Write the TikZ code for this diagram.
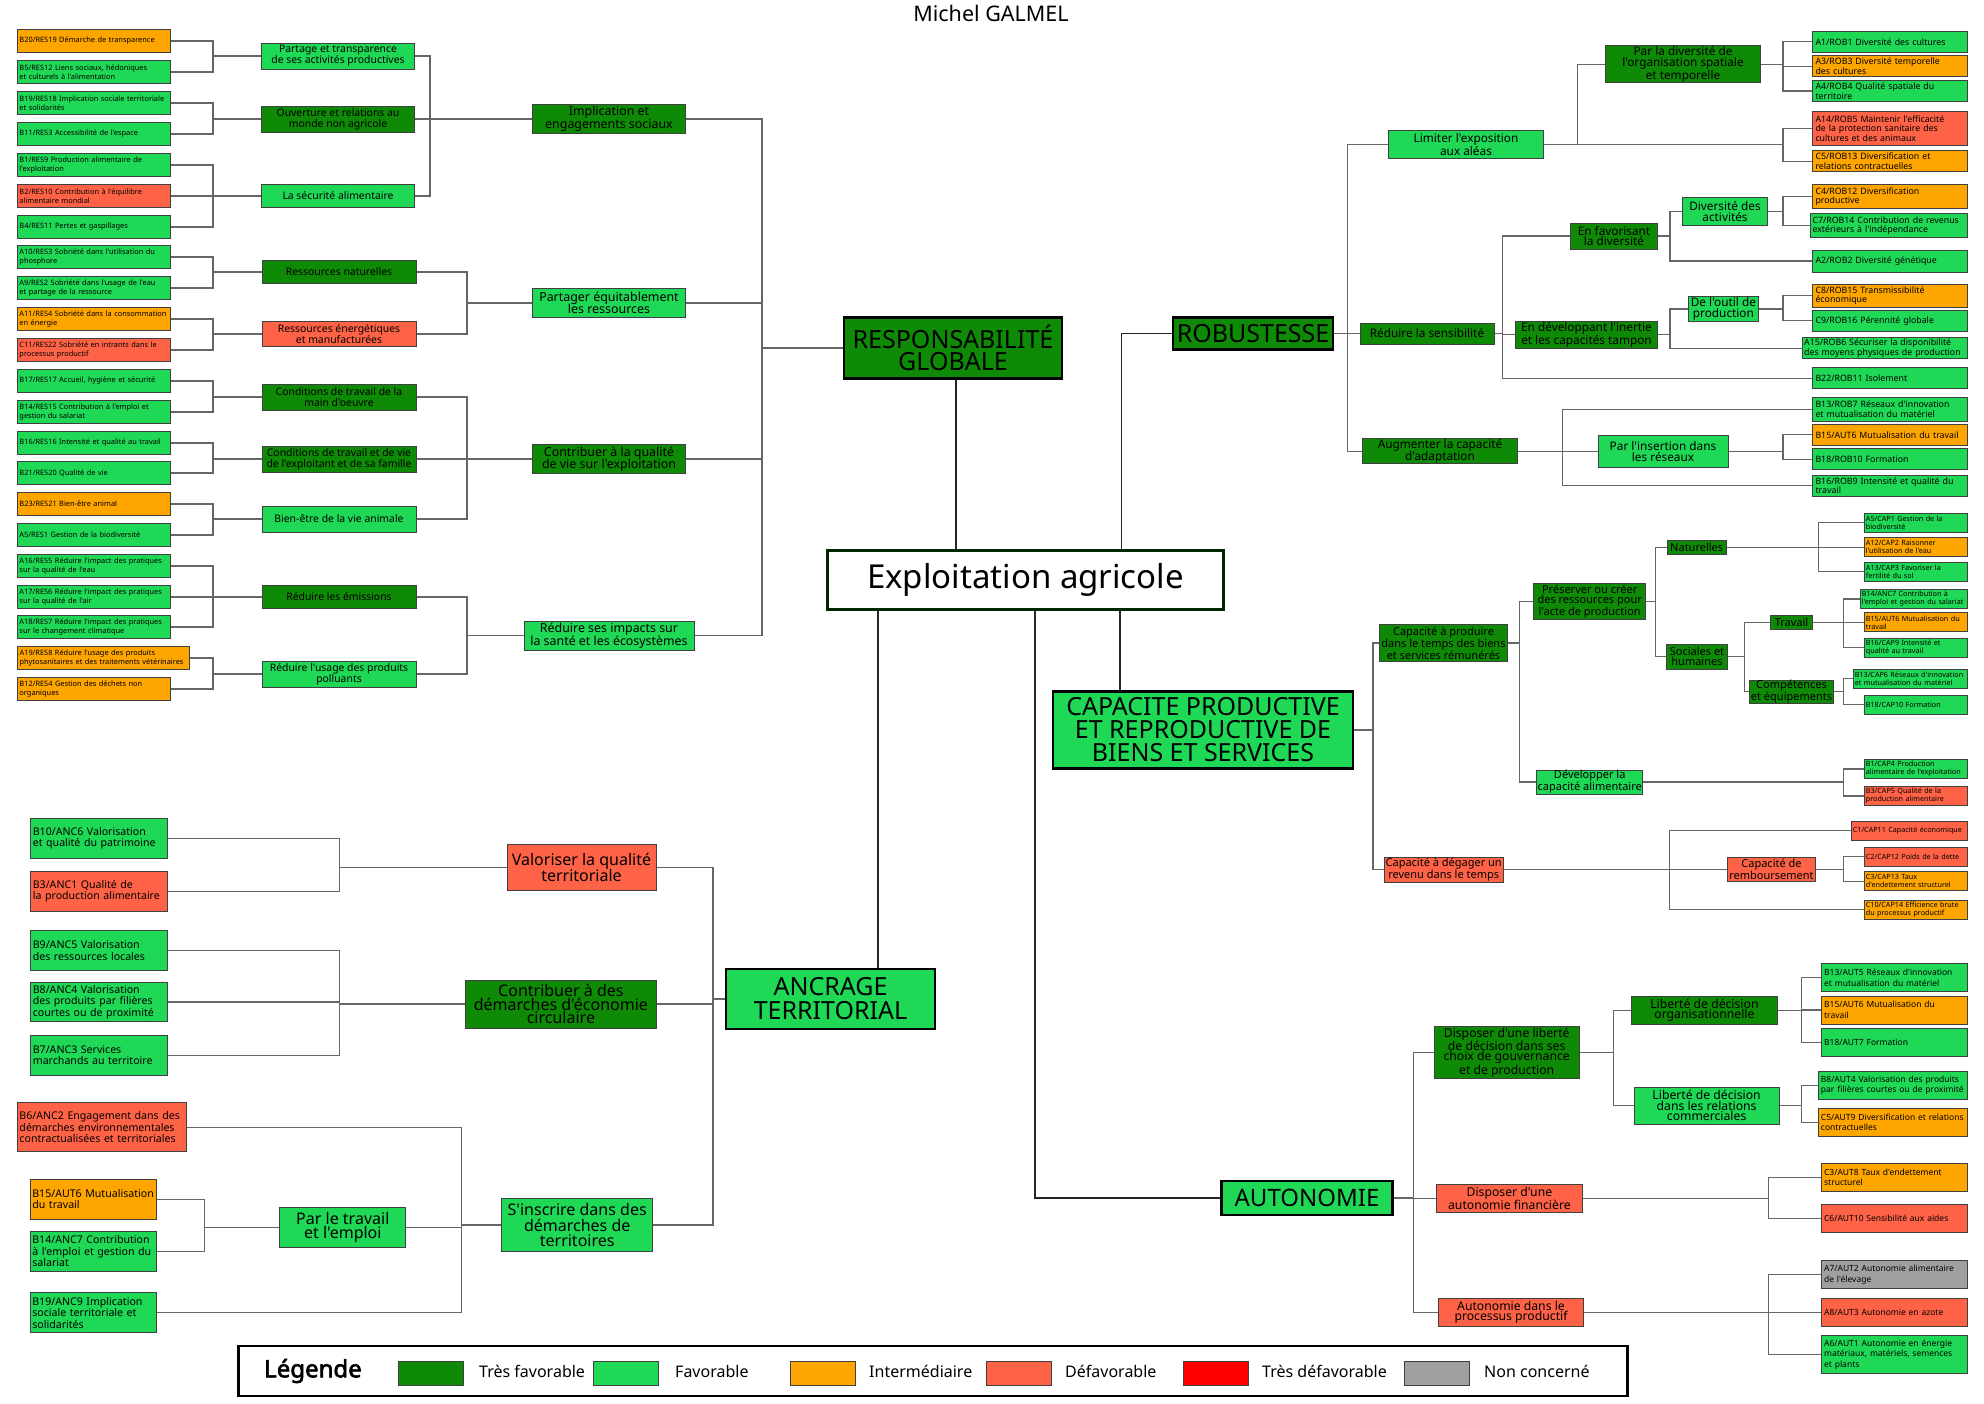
\documentclass[tikz,border=0pt]{standalone}
\usepackage{fontspec}
\setmainfont{Noto Sans}[Ligatures=TeXOff]
\newfontfamily\legfont{Noto Sans}[FakeBold=2.5]

\definecolor{tresfav}{HTML}{0E8A07}
\definecolor{fav}{HTML}{1FD956}
\definecolor{interm}{HTML}{FFA500}
\definecolor{defav}{HTML}{FF6347}
\definecolor{tresdefav}{HTML}{FF0000}
\definecolor{noncon}{HTML}{A0A0A0}

\begin{document}
\begin{tikzpicture}[
    x=1pt, y=-1pt,
    box/.style={draw=black!75, line width=1pt, align=center, inner sep=0pt},
    sz/.style 2 args={minimum width=#1pt, minimum height=#2pt},
    lsz/.code n args={3}{\pgfmathsetmacro\leafw{#1-2*#3}%
      \edef\leafset{\noexpand\tikzset{minimum width=#1pt, minimum height=#2pt,
        inner xsep=#3pt, text width=\leafw pt}}\leafset},
    leaf/.style={box, align=left},
    cTF/.style={fill=tresfav}, cF/.style={fill=fav}, cI/.style={fill=interm},
    cD/.style={fill=defav}, cNC/.style={fill=noncon},
    pillar/.style={box, draw=black, line width=2.4pt, font=\fontsize{25}{22}\selectfont},
    resleaf/.style={leaf, font=\fontsize{7.4}{9}\selectfont, lsz={153}{23}{2.5}},
    resmid/.style={box, font=\fontsize{10.4}{11}\selectfont},
    reslvl/.style={box, font=\fontsize{12.4}{12.5}\selectfont},
    robleaf/.style={leaf, font=\fontsize{8.8}{9.5}\selectfont, lsz={155}{21}{3}},
    robmid/.style={box, font=\fontsize{11.8}{10.5}\selectfont},
    capleaf/.style={leaf, font=\fontsize{7.2}{8}\selectfont, lsz={102.6}{19}{1.5}},
    capmid/.style={box, font=\fontsize{11}{10}\selectfont},
    autleaf/.style={leaf, font=\fontsize{8.5}{10.5}\selectfont, lsz={146}{28}{2.5}},
    autmid/.style={box, font=\fontsize{12.2}{10.5}\selectfont},
    ancleaf/.style={leaf, font=\fontsize{10.6}{11.5}\selectfont, lsz={137.3}{39.6}{2.5}},
    ancmid/.style={box, font=\fontsize{16}{14.5}\selectfont},
    swatch/.style={draw=black!75, line width=1pt, sz={65}{24}},
    leglab/.style={anchor=west, inner sep=0pt, font=\fontsize{16}{16}\selectfont},
    link/.style={draw=black!60, line width=1.1pt},
    mainlink/.style={draw=black!85, line width=1.4pt}
  ]
  \useasboundingbox (0,0) rectangle (1984,1403);

  \node[font=\fontsize{21.5}{22}\selectfont] (titre) at (991,13) {Michel GALMEL};

  % centre et piliers
  \node[box, draw=black!85!green, line width=2.5pt, fill=white, sz={396}{59},
        font=\fontsize{33}{33}\selectfont] (expl) at (1025.5,580) {Exploitation agricole};
  \node[pillar, cTF, sz={218}{61}] (resp) at (953,348) {RESPONSABILITÉ\\GLOBALE};
  \node[pillar, cTF, sz={160}{32}] (rob) at (1253,333.5) {ROBUSTESSE};
  \node[pillar, cF, sz={300}{77}, font=\fontsize{25}{23}\selectfont] (cap) at (1203,730)
       {CAPACITE PRODUCTIVE\\ET REPRODUCTIVE DE\\BIENS ET SERVICES};
  \node[pillar, cF, sz={209}{60}, font=\fontsize{25}{24}\selectfont] (anc) at (830.5,999) {ANCRAGE\\TERRITORIAL};
  \node[pillar, cF, sz={171}{34}, font=\fontsize{24}{24}\selectfont] (auto) at (1307,1198) {AUTONOMIE};

  % responsabilite globale
  \node[resleaf, cI] (b20res19) at (93.5,41) {B20/RES19 Démarche de transparence};
  \node[resleaf, cF] (b5res12) at (93.5,72) {B5/RES12 Liens sociaux, hédoniques\\et culturels à l'alimentation};
  \node[resleaf, cF] (b19res18) at (93.5,103) {B19/RES18 Implication sociale territoriale\\et solidarités};
  \node[resleaf, cF] (b11res3) at (93.5,134) {B11/RES3 Accessibilité de l'espace};
  \node[resleaf, cF] (b1res9) at (93.5,165) {B1/RES9 Production alimentaire de\\l'exploitation};
  \node[resleaf, cD] (b2res10) at (93.5,196) {B2/RES10 Contribution à l'équilibre\\alimentaire mondial};
  \node[resleaf, cF] (b4res11) at (93.5,227) {B4/RES11 Pertes et gaspillages};
  \node[resleaf, cF] (a10res3) at (93.5,257) {A10/RES3 Sobriété dans l'utilisation du\\phosphore};
  \node[resleaf, cF] (a9res2) at (93.5,288) {A9/RES2 Sobriété dans l'usage de l'eau\\et partage de la ressource};
  \node[resleaf, cI] (a11res4) at (93.5,319) {A11/RES4 Sobriété dans la consommation\\en énergie};
  \node[resleaf, cD] (c11res22) at (93.5,350) {C11/RES22 Sobriété en intrants dans le\\processus productif};
  \node[resleaf, cF] (b17res17) at (93.5,381) {B17/RES17 Accueil, hygiène et sécurité};
  \node[resleaf, cF] (b14res15) at (93.5,412) {B14/RES15 Contribution à l'emploi et\\gestion du salariat};
  \node[resleaf, cF] (b16res16) at (93.5,443) {B16/RES16 Intensité et qualité au travail};
  \node[resleaf, cF] (b21res20) at (93.5,473) {B21/RES20 Qualité de vie};
  \node[resleaf, cI] (b23res21) at (93.5,504) {B23/RES21 Bien-être animal};
  \node[resleaf, cF] (a5res1) at (93.5,535) {A5/RES1 Gestion de la biodiversité};
  \node[resleaf, cF] (a16res5) at (93.5,566) {A16/RES5 Réduire l'impact des pratiques\\sur la qualité de l'eau};
  \node[resleaf, cF] (a17res6) at (93.5,597) {A17/RES6 Réduire l'impact des pratiques\\sur la qualité de l'air};
  \node[resleaf, cF] (a18res7) at (93.5,627) {A18/RES7 Réduire l'impact des pratiques\\sur le changement climatique};
  \node[resleaf, cI, lsz={172.3}{23}{2.5}] (a19res8) at (103.2,658) {A19/RES8 Réduire l'usage des produits\\phytosanitaires et des traitements vétérinaires};
  \node[resleaf, cI] (b12res4) at (93.5,689) {B12/RES4 Gestion des déchets non\\organiques};

  \node[resmid, cF, sz={153}{26}] (partage) at (338,56) {Partage et transparence\\de ses activités productives};
  \node[resmid, cTF, sz={153}{26}] (ouverture) at (338,119) {Ouverture et relations au\\monde non agricole};
  \node[resmid, cF, sz={153}{23}] (securite) at (338,196) {La sécurité alimentaire};
  \node[resmid, cTF, sz={154}{23}] (resnat) at (339,272) {Ressources naturelles};
  \node[resmid, cD, sz={154}{25}] (resener) at (339,334) {Ressources énergétiques\\et manufacturées};
  \node[resmid, cTF, sz={154}{26}] (condmain) at (339,397) {Conditions de travail de la\\main d'oeuvre};
  \node[resmid, cTF, sz={154}{26}] (condexpl) at (339,459) {Conditions de travail et de vie\\de l'exploitant et de sa famille};
  \node[resmid, cF, sz={154}{26}] (bienetre) at (339,519) {Bien-être de la vie animale};
  \node[resmid, cTF, sz={154}{23}] (emissions) at (339,597) {Réduire les émissions};
  \node[resmid, cF, sz={154}{26}] (polluants) at (339,674) {Réduire l'usage des produits\\polluants};

  \node[reslvl, cTF, sz={153}{29}] (implication) at (609,119) {Implication et\\engagements sociaux};
  \node[reslvl, cF, sz={153}{29}] (partager) at (609,303) {Partager équitablement\\les ressources};
  \node[reslvl, cTF, sz={153}{29}] (contribuer) at (609,459) {Contribuer à la qualité\\de vie sur l'exploitation};
  \node[reslvl, cF, sz={170}{29}] (impacts) at (609,635.5) {Réduire ses impacts sur\\la santé et les écosystèmes};

  % robustesse
  \node[robmid, cF, sz={155}{28}] (limiter) at (1466,144.3) {Limiter l'exposition\\aux aléas};
  \node[robmid, cTF, sz={134}{21}] (sensib) at (1427,333.5) {Réduire la sensibilité};
  \node[robmid, cTF, sz={155}{24}] (augmenter) at (1440,451.3) {Augmenter la capacité\\d'adaptation};
  \node[robmid, cTF, sz={155}{37}] (pardiv) at (1683,64.3) {Par la diversité de\\l'organisation spatiale\\et temporelle};
  \node[robmid, cTF, sz={87}{26}] (favorise) at (1614,236) {En favorisant\\la diversité};
  \node[robmid, cTF, sz={142}{27}] (developpe) at (1586.5,334.8) {En développant l'inertie\\et les capacités tampon};
  \node[robmid, cF, sz={84.5}{28}] (diversact) at (1725,211.3) {Diversité des\\activités};
  \node[robmid, cF, sz={70}{25}] (outil) at (1723.4,309) {De l'outil de\\production};
  \node[robmid, cF, sz={130}{31.6}] (insertion) at (1663,451.5) {Par l'insertion dans\\les réseaux};

  \node[robleaf, cF] (a1rob1) at (1890,41.7) {A1/ROB1 Diversité des cultures};
  \node[robleaf, cI] (a3rob3) at (1890,66.3) {A3/ROB3 Diversité temporelle\\des cultures};
  \node[robleaf, cF] (a4rob4) at (1890,91) {A4/ROB4 Qualité spatiale du\\territoire};
  \node[robleaf, cD, lsz={155}{34}{3}] (a14rob5) at (1890,128.5) {A14/ROB5 Maintenir l'efficacité\\de la protection sanitaire des\\cultures et des animaux};
  \node[robleaf, cI] (c5rob13) at (1890,161.2) {C5/ROB13 Diversification et\\relations contractuelles};
  \node[robleaf, cI, lsz={155}{24}{3}] (c4rob12) at (1890,196.7) {C4/ROB12 Diversification\\productive};
  \node[robleaf, cF, lsz={157}{24}{2.5}] (c7rob14) at (1888.5,225.8) {C7/ROB14 Contribution de revenus\\extérieurs à l'indépendance};
  \node[robleaf, cF, lsz={155}{22}{3}] (a2rob2) at (1890,261) {A2/ROB2 Diversité génétique};
  \node[robleaf, cI, lsz={155}{23}{3}] (c8rob15) at (1890,295.7) {C8/ROB15 Transmissibilité\\économique};
  \node[robleaf, cF] (c9rob16) at (1890,320.7) {C9/ROB16 Pérennité globale};
  \node[robleaf, cF, lsz={165}{21}{2}] (a15rob6) at (1884.7,348.2) {A15/ROB6 Sécuriser la disponibilité\\des moyens physiques de production};
  \node[robleaf, cF] (b22rob11) at (1890,378.3) {B22/ROB11 Isolement};
  \node[robleaf, cF, lsz={155}{24}{3}] (b13rob7) at (1890,409.3) {B13/ROB7 Réseaux d'innovation\\et mutualisation du matériel};
  \node[robleaf, cI] (b15aut6r) at (1890,434.8) {B15/AUT6 Mutualisation du travail};
  \node[robleaf, cF] (b18rob10) at (1890,459.2) {B18/ROB10 Formation};
  \node[robleaf, cF] (b16rob9) at (1890,485.7) {B16/ROB9 Intensité et qualité du\\travail};

  % capacite productive
  \node[capmid, cTF, sz={128}{37}] (produire) at (1443.5,643) {Capacité à produire\\dans le temps des biens\\et services rémunérés};
  \node[capmid, cD, sz={119.4}{25}] (degager) at (1443.7,869.6) {Capacité à dégager un\\revenu dans le temps};
  \node[capmid, cTF, sz={112}{36}] (preserver) at (1589.7,601.3) {Préserver ou créer\\des ressources pour\\l'acte de production};
  \node[capmid, cF, sz={106}{24}] (developper) at (1589.7,782) {Développer la\\capacité alimentaire};
  \node[capmid, cTF, sz={58.7}{14.3}] (naturelles) at (1696.7,547.2) {Naturelles};
  \node[capmid, cTF, sz={61}{24.7}] (sociales) at (1697,656.7) {Sociales et\\humaines};
  \node[capmid, cTF, sz={42.3}{14}] (travail) at (1791.5,622.3) {Travail};
  \node[capmid, cTF, sz={84.2}{23.3}] (competences) at (1791.5,691.7) {Compétences\\et équipements};
  \node[capmid, cD, sz={88.3}{24.4}] (rembourse) at (1771.5,869.5) {Capacité de\\remboursement};

  \node[capleaf, cF] (a5cap1) at (1915.7,522.8) {A5/CAP1 Gestion de la\\biodiversité};
  \node[capleaf, cI] (a12cap2) at (1915.7,547.2) {A12/CAP2 Raisonner\\l'utilisation de l'eau};
  \node[capleaf, cF] (a13cap3) at (1915.7,571.8) {A13/CAP3 Favoriser la\\fertilité du sol};
  \node[capleaf, cF, lsz={106.7}{19}{1.5}] (b14anc7c) at (1913.7,599) {B14/ANC7 Contribution à\\l'emploi et gestion du salariat};
  \node[capleaf, cI] (b15aut6c) at (1915.7,622.3) {B15/AUT6 Mutualisation du\\travail};
  \node[capleaf, cF] (b16cap9) at (1915.7,647.8) {B16/CAP9 Intensité et\\qualité au travail};
  \node[capleaf, cF, lsz={113.7}{19}{1.5}] (b13cap6) at (1910.2,678.8) {B13/CAP6 Réseaux d'innovation\\et mutualisation du matériel};
  \node[capleaf, cF] (b18cap10) at (1915.7,704.8) {B18/CAP10 Formation};
  \node[capleaf, cF] (b1cap4) at (1915.7,769) {B1/CAP4 Production\\alimentaire de l'exploitation};
  \node[capleaf, cD] (b3cap5) at (1915.7,796) {B3/CAP5 Qualité de la\\production alimentaire};
  \node[capleaf, cD, lsz={115.7}{19}{1.5}] (c1cap11) at (1909.2,830.8) {C1/CAP11 Capacité économique};
  \node[capleaf, cD] (c2cap12) at (1915.7,856.5) {C2/CAP12 Poids de la dette};
  \node[capleaf, cI] (c3cap13) at (1915.7,881.3) {C3/CAP13 Taux\\d'endettement structurel};
  \node[capleaf, cI] (c10cap14) at (1915.7,909.7) {C10/CAP14 Efficience brute\\du processus productif};

  % autonomie
  \node[autmid, cTF, sz={144.6}{52}] (liberte) at (1506.7,1052.3) {Disposer d'une liberté\\de décision dans ses\\choix de gouvernance\\et de production};
  \node[autmid, cD, sz={145.2}{28}] (financiere) at (1509.4,1198.3) {Disposer d'une\\autonomie financière};
  \node[autmid, cD, sz={145.2}{27.7}] (processus) at (1511,1312.2) {Autonomie dans le\\processus productif};
  \node[autmid, cTF, sz={145.2}{28}] (org) at (1704.4,1010.3) {Liberté de décision\\organisationnelle};
  \node[autmid, cF, sz={144.8}{37}] (relations) at (1706.6,1105.8) {Liberté de décision\\dans les relations\\commerciales};

  \node[autleaf, cF] (b13aut5) at (1894.6,977.7) {B13/AUT5 Réseaux d'innovation\\et mutualisation du matériel};
  \node[autleaf, cI] (b15aut6a) at (1894.6,1010) {B15/AUT6 Mutualisation du\\travail};
  \node[autleaf, cF] (b18aut7) at (1894.6,1042.3) {B18/AUT7 Formation};
  \node[autleaf, cF, lsz={148.6}{28}{2.5}] (b8aut4) at (1892.7,1085.5) {B8/AUT4 Valorisation des produits\\par filières courtes ou de proximité};
  \node[autleaf, cI, lsz={148.6}{28}{2.5}] (c5aut9) at (1892.7,1122.3) {C5/AUT9 Diversification et relations\\contractuelles};
  \node[autleaf, cI] (c3aut8) at (1894.6,1177.3) {C3/AUT8 Taux d'endettement\\structurel};
  \node[autleaf, cD] (c6aut10) at (1894.6,1218.3) {C6/AUT10 Sensibilité aux aides};
  \node[autleaf, cNC] (a7aut2) at (1894.6,1274.7) {A7/AUT2 Autonomie alimentaire\\de l'élevage};
  \node[autleaf, cD] (a8aut3) at (1894.6,1312.3) {A8/AUT3 Autonomie en azote};
  \node[autleaf, cF, lsz={146}{37.6}{2.5}] (a6aut1) at (1894.6,1354.5) {A6/AUT1 Autonomie en énergie\\matériaux, matériels, semences\\et plants};

  % ancrage territorial
  \node[ancmid, cD, sz={149}{46}, font=\fontsize{16}{16}\selectfont] (valoriser) at (581.5,867.5) {Valoriser la qualité\\territoriale};
  \node[ancmid, cTF, sz={190.5}{48}, font=\fontsize{16}{13.5}\selectfont] (circulaire) at (560.9,1004) {Contribuer à des\\démarches d'économie\\circulaire};
  \node[ancmid, cF, sz={151.5}{53.6}, font=\fontsize{16}{15.5}\selectfont] (inscrire) at (577.2,1225) {S'inscrire dans des\\démarches de\\territoires};
  \node[ancmid, cF, sz={126.3}{39.6}] (partravail) at (342.8,1227.3) {Par le travail\\et l'emploi};

  \node[ancleaf, cF] (b10anc6) at (99,838.4) {B10/ANC6 Valorisation\\et qualité du patrimoine};
  \node[ancleaf, cD] (b3anc1) at (99,891.4) {B3/ANC1 Qualité de\\la production alimentaire};
  \node[ancleaf, cF] (b9anc5) at (99,950.5) {B9/ANC5 Valorisation\\des ressources locales};
  \node[ancleaf, cF] (b8anc4) at (99,1002) {B8/ANC4 Valorisation\\des produits par filières\\courtes ou de proximité};
  \node[ancleaf, cF] (b7anc3) at (99,1055.2) {B7/ANC3 Services\\marchands au territoire};
  \node[ancleaf, cD, lsz={169.4}{49.3}{2.5}] (b6anc2) at (101.7,1127.2) {B6/ANC2 Engagement dans des\\démarches environnementales\\contractualisées et territoriales};
  \node[ancleaf, cI, lsz={126.3}{39.7}{2}] (b15aut6n) at (93.5,1199.2) {B15/AUT6 Mutualisation\\du travail};
  \node[ancleaf, cF, lsz={126.3}{40}{2}] (b14anc7) at (93.5,1251.4) {B14/ANC7 Contribution\\à l'emploi et gestion du\\salariat};
  \node[ancleaf, cF, lsz={126.3}{39.6}{2}] (b19anc9) at (93.5,1312.7) {B19/ANC9 Implication\\sociale territoriale et\\solidarités};

  % legende
  \node[draw=black, line width=2.5pt, sz={1389.3}{49.7}, inner sep=0pt] (legende) at (933,1370.9) {};
  \node[anchor=west, inner sep=0pt, font=\fontsize{24}{24}\legfont] (legtitre) at (264,1371) {Légende};
  \node[swatch, cTF] (sw1) at (431,1373) {};
  \node[swatch, cF] (sw2) at (626,1373) {};
  \node[swatch, cI] (sw3) at (823,1373) {};
  \node[swatch, cD] (sw4) at (1019,1373) {};
  \node[swatch, fill=tresdefav] (sw5) at (1216,1373) {};
  \node[swatch, cNC] (sw6) at (1437,1373) {};
  \node[leglab] (lab1) at (479,1371) {Très favorable};
  \node[leglab] (lab2) at (675,1371) {Favorable};
  \node[leglab] (lab3) at (869,1371) {Intermédiaire};
  \node[leglab] (lab4) at (1065,1371) {Défavorable};
  \node[leglab] (lab5) at (1262,1371) {Très défavorable};
  \node[leglab] (lab6) at (1484,1371) {Non concerné};

  % abscisses des accolades
  \coordinate (kL1) at (213,0);
  \coordinate (kL2a) at (430,0);
  \coordinate (kL2) at (467,0);
  \coordinate (kL3) at (762,0);
  \coordinate (kR1) at (1347.4,0);
  \coordinate (kR2) at (1577.4,0);
  \coordinate (kR3) at (1783,0);
  \coordinate (ksens) at (1502.2,0);
  \coordinate (kfav) at (1670,0);
  \coordinate (kaug) at (1562.6,0);
  \coordinate (kcap) at (1373,0);
  \coordinate (kprod) at (1519.3,0);
  \coordinate (kpres) at (1655.4,0);
  \coordinate (knat) at (1818.4,0);
  \coordinate (ksoc) at (1744.5,0);
  \coordinate (kcapl) at (1843.5,0);
  \coordinate (kdeg) at (1669.4,0);
  \coordinate (kaut) at (1413.2,0);
  \coordinate (klib) at (1613.5,0);
  \coordinate (kautl) at (1801.3,0);
  \coordinate (kfin) at (1768.3,0);
  \coordinate (kanc) at (713,0);
  \coordinate (kval) at (339.3,0);
  \coordinate (kpt) at (204.3,0);
  \coordinate (kins) at (461.9,0);

  % liens du centre
  \draw[mainlink] ([xshift=3pt]resp.south) coordinate (exresp) -- (exresp |- expl.north);
  \draw[mainlink] ([xshift=96pt]expl.north) |- (rob.west);
  \draw[mainlink] ([xshift=94.5pt]expl.south) coordinate (excap) -- (excap |- cap.north);
  \draw[mainlink] ([xshift=-147.5pt]expl.south) coordinate (exanc) -- (exanc |- anc.north);
  \draw[mainlink] ([xshift=9.5pt]expl.south) |- (auto.west);

  % liens gauche (enfant -> parent)
  \foreach \c in {b20res19,b5res12} \draw[link] (\c.east) -- (\c.east -| kL1) |- (partage.west);
  \foreach \c in {b19res18,b11res3} \draw[link] (\c.east) -- (\c.east -| kL1) |- (ouverture.west);
  \foreach \c in {b1res9,b2res10,b4res11} \draw[link] (\c.east) -- (\c.east -| kL1) |- (securite.west);
  \foreach \c in {a10res3,a9res2} \draw[link] (\c.east) -- (\c.east -| kL1) |- (resnat.west);
  \foreach \c in {a11res4,c11res22} \draw[link] (\c.east) -- (\c.east -| kL1) |- (resener.west);
  \foreach \c in {b17res17,b14res15} \draw[link] (\c.east) -- (\c.east -| kL1) |- (condmain.west);
  \foreach \c in {b16res16,b21res20} \draw[link] (\c.east) -- (\c.east -| kL1) |- (condexpl.west);
  \foreach \c in {b23res21,a5res1} \draw[link] (\c.east) -- (\c.east -| kL1) |- (bienetre.west);
  \foreach \c in {a16res5,a17res6,a18res7} \draw[link] (\c.east) -- (\c.east -| kL1) |- (emissions.west);
  \foreach \c in {a19res8,b12res4} \draw[link] (\c.east) -- (\c.east -| kL1) |- (polluants.west);
  \foreach \c in {partage,ouverture,securite} \draw[link] (\c.east) -- (\c.east -| kL2a) |- (implication.west);
  \foreach \c in {resnat,resener} \draw[link] (\c.east) -- (\c.east -| kL2) |- (partager.west);
  \foreach \c in {condmain,condexpl,bienetre} \draw[link] (\c.east) -- (\c.east -| kL2) |- (contribuer.west);
  \foreach \c in {emissions,polluants} \draw[link] (\c.east) -- (\c.east -| kL2) |- (impacts.west);
  \foreach \c in {implication,partager,contribuer,impacts} \draw[link] (\c.east) -- (\c.east -| kL3) |- (resp.west);

  \foreach \c in {b10anc6,b3anc1} \draw[link] (\c.east) -- (\c.east -| kval) |- (valoriser.west);
  \foreach \c in {b9anc5,b8anc4,b7anc3} \draw[link] (\c.east) -- (\c.east -| kval) |- (circulaire.west);
  \foreach \c in {b15aut6n,b14anc7} \draw[link] (\c.east) -- (\c.east -| kpt) |- (partravail.west);
  \foreach \c in {b6anc2,partravail,b19anc9} \draw[link] (\c.east) -- (\c.east -| kins) |- (inscrire.west);
  \foreach \c in {valoriser,circulaire,inscrire} \draw[link] (\c.east) -- (\c.east -| kanc) |- (anc.west);

  % liens droite (parent -> enfant)
  \foreach \c in {limiter,sensib,augmenter} \draw[link] (rob.east) -- (rob.east -| kR1) |- (\c.west);
  \draw[link] (limiter.east) -- (limiter.east -| kR2) |- (pardiv.west);
  \foreach \c in {a14rob5,c5rob13} \draw[link] (limiter.east) -- (limiter.east -| kR3) |- (\c.west);
  \foreach \c in {a1rob1,a3rob3,a4rob4} \draw[link] (pardiv.east) -- (pardiv.east -| kR3) |- (\c.west);
  \foreach \c in {favorise,developpe,b22rob11} \draw[link] (sensib.east) -- (sensib.east -| ksens) |- (\c.west);
  \foreach \c in {diversact,a2rob2} \draw[link] (favorise.east) -- (favorise.east -| kfav) |- (\c.west);
  \foreach \c in {c4rob12,c7rob14} \draw[link] (diversact.east) -- (diversact.east -| kR3) |- (\c.west);
  \foreach \c in {outil,a15rob6} \draw[link] (developpe.east) -- (developpe.east -| kfav) |- (\c.west);
  \foreach \c in {c8rob15,c9rob16} \draw[link] (outil.east) -- (outil.east -| kR3) |- (\c.west);
  \foreach \c in {insertion,b13rob7,b16rob9} \draw[link] (augmenter.east) -- (augmenter.east -| kaug) |- (\c.west);
  \foreach \c in {b15aut6r,b18rob10} \draw[link] (insertion.east) -- (insertion.east -| kR3) |- (\c.west);

  \foreach \c in {produire,degager} \draw[link] (cap.east) -- (cap.east -| kcap) |- (\c.west);
  \foreach \c in {preserver,developper} \draw[link] (produire.east) -- (produire.east -| kprod) |- (\c.west);
  \foreach \c in {naturelles,sociales} \draw[link] (preserver.east) -- (preserver.east -| kpres) |- (\c.west);
  \foreach \c in {a5cap1,a12cap2,a13cap3} \draw[link] (naturelles.east) -- (naturelles.east -| knat) |- (\c.west);
  \foreach \c in {travail,competences} \draw[link] (sociales.east) -- (sociales.east -| ksoc) |- (\c.west);
  \foreach \c in {b14anc7c,b15aut6c,b16cap9} \draw[link] (travail.east) -- (travail.east -| kcapl) |- (\c.west);
  \foreach \c in {b13cap6,b18cap10} \draw[link] (competences.east) -- (competences.east -| kcapl) |- (\c.west);
  \foreach \c in {b1cap4,b3cap5} \draw[link] (developper.east) -- (developper.east -| kcapl) |- (\c.west);
  \foreach \c in {c1cap11,rembourse,c10cap14} \draw[link] (degager.east) -- (degager.east -| kdeg) |- (\c.west);
  \foreach \c in {c2cap12,c3cap13} \draw[link] (rembourse.east) -- (rembourse.east -| kcapl) |- (\c.west);

  \foreach \c in {liberte,financiere,processus} \draw[link] (auto.east) -- (auto.east -| kaut) |- (\c.west);
  \foreach \c in {org,relations} \draw[link] (liberte.east) -- (liberte.east -| klib) |- (\c.west);
  \foreach \c in {b13aut5,b15aut6a,b18aut7} \draw[link] (org.east) -- (org.east -| kautl) |- (\c.west);
  \foreach \c in {b8aut4,c5aut9} \draw[link] (relations.east) -- (relations.east -| kautl) |- (\c.west);
  \foreach \c in {c3aut8,c6aut10} \draw[link] (financiere.east) -- (financiere.east -| kfin) |- (\c.west);
  \foreach \c in {a7aut2,a8aut3,a6aut1} \draw[link] (processus.east) -- (processus.east -| kfin) |- (\c.west);
\end{tikzpicture}
\end{document}
